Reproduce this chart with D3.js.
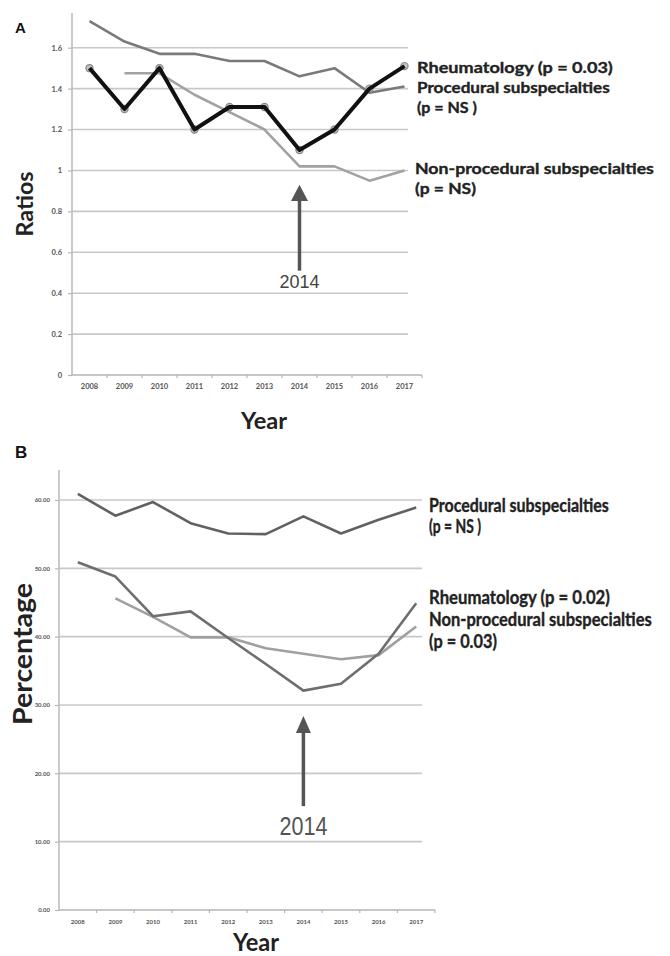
<!DOCTYPE html>
<html>
<head>
<meta charset="utf-8">
<script src="https://cdn.jsdelivr.net/npm/d3@7"></script>
<style>
  body { margin: 0; background: #fff; }
  svg text { font-family: Lato, "Open Sans", sans-serif; }
</style>
</head>
<body>
<div id="chart"></div>
<script>
// values
const YEARS = ["2008", "2009", "2010", "2011", "2012", "2013", "2014", "2015", "2016", "2017"];

// panel A - ratios
const A_TICKS = [0, 0.2, 0.4, 0.6, 0.8, 1, 1.2, 1.4, 1.6];
const A_RHEUM = [1.5, 1.3, 1.5, 1.2, 1.31, 1.31, 1.1, 1.2, 1.4, 1.51];
const A_PROC = [1.73, 1.63, 1.57, 1.57, 1.535, 1.535, 1.46, 1.5, 1.38, 1.41];
const A_NONPROC = [null, 1.475, 1.475, 1.37, 1.285, 1.2, 1.02, 1.02, 0.95, 1.0];
const A_LABELS = ["Rheumatology (p = 0.03)", "Procedural subspecialties", "(p = NS )",
                  "Non-procedural subspecialties", "(p = NS)"];

// panel B - percentage
const B_TICKS = [0, 10, 20, 30, 40, 50, 60];
const B_PROC = [60.9, 57.7, 59.7, 56.6, 55.1, 55.0, 57.6, 55.1, 57.1, 58.9];
const B_RHEUM = [50.9, 48.8, 43.0, 43.7, 39.8, 36.0, 32.1, 33.1, 37.5, 44.9];
const B_NONPROC = [null, 45.6, 42.9, 39.9, 39.9, 38.3, 37.5, 36.7, 37.3, 41.5];
const B_LABELS = ["Procedural subspecialties", "(p = NS )", "Rheumatology (p = 0.02)",
                  "Non-procedural subspecialties", "(p = 0.03)"];

const FRAME_WIDTH = 670;
const FRAME_HEIGHT = 956;

const SVG = d3.select("#chart")
  .append("svg")
    .attr("width", FRAME_WIDTH)
    .attr("height", FRAME_HEIGHT);

// shared axes / grid for one panel
function drawFrame(o) {
  const g = SVG.append("g");

  // gridlines
  g.selectAll(".grid")
    .data(o.ticks.filter(t => t > 0))
    .enter().append("line")
      .attr("x1", o.x.range()[0]).attr("x2", o.gridRight)
      .attr("y1", d => o.y(d)).attr("y2", d => o.y(d))
      .attr("stroke", "#c8c8c8").attr("stroke-width", 1.6);

  // y axis
  const yAxis = g.append("g")
    .attr("transform", "translate(" + o.x.range()[0] + ",0)")
    .call(d3.axisLeft(o.y).tickValues(o.ticks).tickFormat(o.fmt).tickSize(4).tickPadding(o.pad));
  yAxis.select(".domain").remove();
  yAxis.selectAll("line").attr("stroke", "#b5b5b5").attr("stroke-width", 1.2);
  yAxis.selectAll("text")
    .attr("font-size", o.tickFont).attr("font-weight", "bold").attr("fill", "#555");
  g.append("line")
    .attr("x1", o.x.range()[0]).attr("x2", o.x.range()[0])
    .attr("y1", o.y(0)).attr("y2", o.axisTop)
    .attr("stroke", "#bdbdbd").attr("stroke-width", 1.6);

  // x axis: labels at band centres, ticks at band edges
  const xAxis = g.append("g")
    .attr("transform", "translate(0," + o.y(0) + ")")
    .call(d3.axisBottom(o.x).tickSize(0).tickPadding(o.xPad));
  xAxis.select(".domain").remove();
  xAxis.selectAll("text")
    .attr("font-size", o.tickFont).attr("font-weight", "bold").attr("fill", "#555");
  g.append("line")
    .attr("x1", o.x.range()[0]).attr("x2", o.x.range()[1])
    .attr("y1", o.y(0)).attr("y2", o.y(0))
    .attr("stroke", "#b5b5b5").attr("stroke-width", 1.6);
  g.selectAll(".xtick")
    .data(YEARS.slice(1).map(d => o.x(d)).concat([o.x.range()[1]]))
    .enter().append("line")
      .attr("x1", d => d).attr("x2", d => d)
      .attr("y1", o.y(0)).attr("y2", o.y(0) + 3)
      .attr("stroke", "#b5b5b5").attr("stroke-width", 1.2);
  return g;
}

function lineFor(x, y) {
  return d3.line()
    .defined(d => d != null)
    .x((d, i) => x(YEARS[i]) + x.bandwidth() / 2)
    .y(d => y(d));
}

function arrow(g, cx, tip, base, bottom, half) {
  g.append("path")
    .attr("d", "M" + cx + "," + tip + "L" + (cx + half) + "," + base + "L" + (cx - half) + "," + base + "Z")
    .attr("fill", "#555");
  g.append("line")
    .attr("x1", cx).attr("x2", cx).attr("y1", base - 1).attr("y2", bottom)
    .attr("stroke", "#555").attr("stroke-width", 3.5);
}

// text squeezed horizontally to a given width (the original fonts are condensed)
function fitText(g, t, x, y, w, size, opts) {
  opts = opts || {};
  const txt = g.append("text")
    .attr("font-size", size).attr("font-weight", opts.weight || "bold")
    .attr("fill", opts.fill || "#222")
    .attr("text-anchor", opts.anchor || "start")
    .text(t);
  if (opts.family) txt.style("font-family", opts.family);
  if (opts.stroke) txt.attr("stroke", opts.fill || "#222").attr("stroke-width", opts.stroke);
  const sx = w / txt.node().getComputedTextLength();
  const rot = opts.rotate ? " rotate(" + opts.rotate + ")" : "";
  txt.attr("transform", "translate(" + x + "," + y + ")" + rot + " scale(" + sx + ",1)");
  return txt;
}

// ---------------- panel A ----------------
const X_A = d3.scaleBand().domain(YEARS).range([72, 422]);
const Y_A = d3.scaleLinear().domain([0, 1.6]).range([375, 47.7]);

const GA = drawFrame({x: X_A, y: Y_A, ticks: A_TICKS, fmt: d => d, gridRight: 408,
                      axisTop: 13, tickFont: "7.5px", pad: 6, xPad: 9});

GA.append("path").datum(A_PROC)
  .attr("d", lineFor(X_A, Y_A)).attr("fill", "none")
  .attr("stroke", "#7a7a7a").attr("stroke-width", 2.6).attr("stroke-linejoin", "round");
GA.append("path").datum(A_NONPROC)
  .attr("d", lineFor(X_A, Y_A)).attr("fill", "none")
  .attr("stroke", "#a2a2a2").attr("stroke-width", 2.6).attr("stroke-linejoin", "round");
GA.selectAll(".mark").data(A_RHEUM).enter().append("circle")
  .attr("cx", (d, i) => X_A(YEARS[i]) + X_A.bandwidth() / 2)
  .attr("cy", d => Y_A(d))
  .attr("r", 3.6).attr("fill", "#c4c4c4").attr("stroke", "#888").attr("stroke-width", 1.2);
GA.append("path").datum(A_RHEUM)
  .attr("d", lineFor(X_A, Y_A)).attr("fill", "none")
  .attr("stroke", "#111").attr("stroke-width", 4).attr("stroke-linejoin", "round");

const A14 = X_A("2014") + X_A.bandwidth() / 2;
arrow(GA, A14, Y_A(0.93), Y_A(0.85), Y_A(0.51), 8.5);
GA.append("text").attr("x", A14).attr("y", 288).attr("text-anchor", "middle")
  .attr("font-size", "18px").attr("fill", "#444")
  .style("font-family", "'Liberation Sans', Arial, sans-serif").text("2014");

const A_LABEL_Y = [73, 93, 113, 174, 194];
const A_LABEL_W = [196, 193, 60, 239, 61];
A_LABELS.forEach((t, i) => {
  fitText(GA, t, i < 3 ? 417 : 415, A_LABEL_Y[i], A_LABEL_W[i], "15px", {stroke: 0.35});
});

GA.append("text").attr("x", 15).attr("y", 33)
  .attr("font-size", "15px").attr("font-weight", "bold").attr("fill", "#111")
  .style("font-family", "'Liberation Sans', Arial, sans-serif").text("A");
fitText(GA, "Year", 264, 429, 46, "22px", {anchor: "middle"});
fitText(GA, "Ratios", 33, 204, 65, "23px", {anchor: "middle", rotate: -90});

// ---------------- panel B ----------------
const X_B = d3.scaleBand().domain(YEARS).range([59, 435]);
const Y_B = d3.scaleLinear().domain([0, 60]).range([910, 500]);

const GB = drawFrame({x: X_B, y: Y_B, ticks: B_TICKS, fmt: d3.format(".2f"), gridRight: 422,
                      axisTop: 470, tickFont: "6px", pad: 5, xPad: 10});

GB.append("path").datum(B_PROC)
  .attr("d", lineFor(X_B, Y_B)).attr("fill", "none")
  .attr("stroke", "#616161").attr("stroke-width", 2.6).attr("stroke-linejoin", "round");
GB.append("path").datum(B_NONPROC)
  .attr("d", lineFor(X_B, Y_B)).attr("fill", "none")
  .attr("stroke", "#a0a0a0").attr("stroke-width", 2.6).attr("stroke-linejoin", "round");
GB.append("path").datum(B_RHEUM)
  .attr("d", lineFor(X_B, Y_B)).attr("fill", "none")
  .attr("stroke", "#6e6e6e").attr("stroke-width", 2.6).attr("stroke-linejoin", "round");

const B14 = X_B("2014") + X_B.bandwidth() / 2;
arrow(GB, B14, Y_B(28.4), Y_B(25.9), Y_B(15.2), 7.5);
fitText(GB, "2014", B14, 835, 48, "25px",
        {anchor: "middle", weight: "normal", fill: "#555", family: "'Liberation Sans', Arial, sans-serif"});

const B_LABEL_Y = [512, 533, 604, 626, 648];
const B_LABEL_W = [180, 52, 181, 223, 68];
B_LABELS.forEach((t, i) => {
  fitText(GB, t, 429, B_LABEL_Y[i], B_LABEL_W[i], "18px", {stroke: 0.35});
});

GB.append("text").attr("x", 15).attr("y", 458)
  .attr("font-size", "17px").attr("font-weight", "bold").attr("fill", "#111")
  .style("font-family", "'Liberation Sans', Arial, sans-serif").text("B");
fitText(GB, "Year", 256, 951, 46, "25px", {anchor: "middle"});
fitText(GB, "Percentage", 32, 654, 142, "26px", {anchor: "middle", rotate: -90});
</script>
</body>
</html>
